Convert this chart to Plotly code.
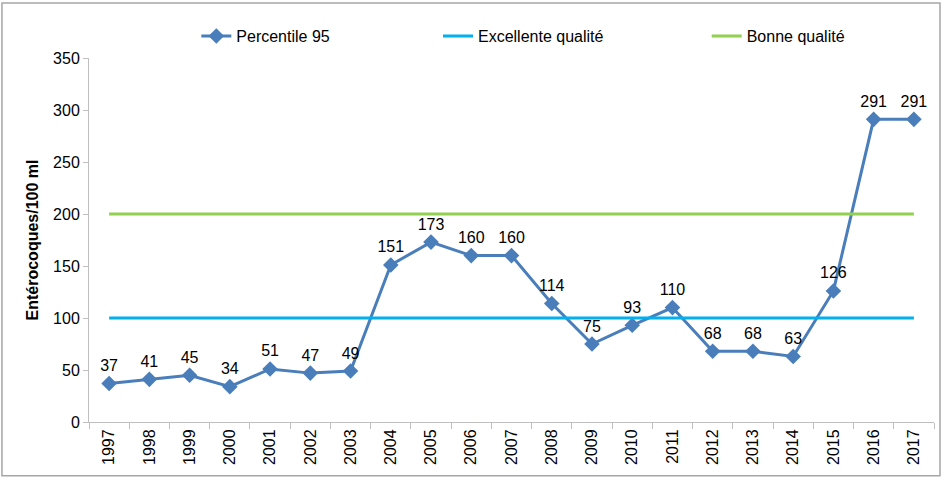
import plotly.graph_objects as go

years = [str(y) for y in range(1997, 2018)]
percentile_95 = [37, 41, 45, 34, 51, 47, 49, 151, 173, 160, 160, 114, 75, 93, 110, 68, 68, 63, 126, 291, 291]
excellente = [100] * len(years)
bonne = [200] * len(years)

FONT = "Liberation Sans, Arial, sans-serif"
AXIS_GRAY = "#BFBFBF"

fig = go.Figure()
fig.add_trace(go.Scatter(
    x=years, y=percentile_95, name="Percentile 95",
    mode="lines+markers+text",
    line=dict(color="#4A7EBB", width=3),
    marker=dict(symbol="diamond", size=12, color="#4A7EBB"),
    text=[str(v) for v in percentile_95], textposition="top center",
    textfont=dict(size=16, color="#000000"),
    showlegend=True, legend="legend",
))
fig.add_trace(go.Scatter(
    x=years, y=excellente, name="Excellente qualité", mode="lines",
    line=dict(color="#00B0F0", width=3), showlegend=True, legend="legend2",
))
fig.add_trace(go.Scatter(
    x=years, y=bonne, name="Bonne qualité", mode="lines",
    line=dict(color="#92D050", width=3), showlegend=True, legend="legend3",
))

leg = dict(orientation="h", yanchor="middle", y=1.06, xanchor="left",
           font=dict(size=16, color="#000000"), bgcolor="rgba(0,0,0,0)",
           visible=True)

fig.update_layout(
    width=942, height=478,
    margin=dict(l=89, r=8, t=58, b=56),
    paper_bgcolor="white", plot_bgcolor="white",
    font=dict(family=FONT, size=16, color="#000000"),
    showlegend=True,
    legend=dict(leg, x=0.127),
    legend2=dict(leg, x=0.413),
    legend3=dict(leg, x=0.731),
    xaxis=dict(
        type="category", range=[-0.5, len(years) - 0.5],
        tickangle=-90, tickson="boundaries",
        ticks="outside", ticklen=6, tickcolor=AXIS_GRAY,
        showline=True, linecolor=AXIS_GRAY, linewidth=1,
        showgrid=False, zeroline=False, automargin=False,
        tickfont=dict(size=16),
    ),
    yaxis=dict(
        range=[0, 350], dtick=50, ticks="outside", ticklen=5,
        tickcolor=AXIS_GRAY, showline=True, linecolor=AXIS_GRAY,
        showgrid=False, zeroline=False, automargin=False,
        tickfont=dict(size=16),
        title=dict(text="<b>Entérocoques/100 ml</b>", font=dict(size=16), standoff=10),
    ),
    shapes=[dict(type="rect", xref="paper", yref="paper",
                 x0=-0.103, x1=1.0071, y0=-0.148, y1=1.151,
                 line=dict(color="#A6A6A6", width=1.5))],
)

fig.write_html("out.html", config={"displayModeBar": False},
               post_script="document.body.style.margin='0';")
